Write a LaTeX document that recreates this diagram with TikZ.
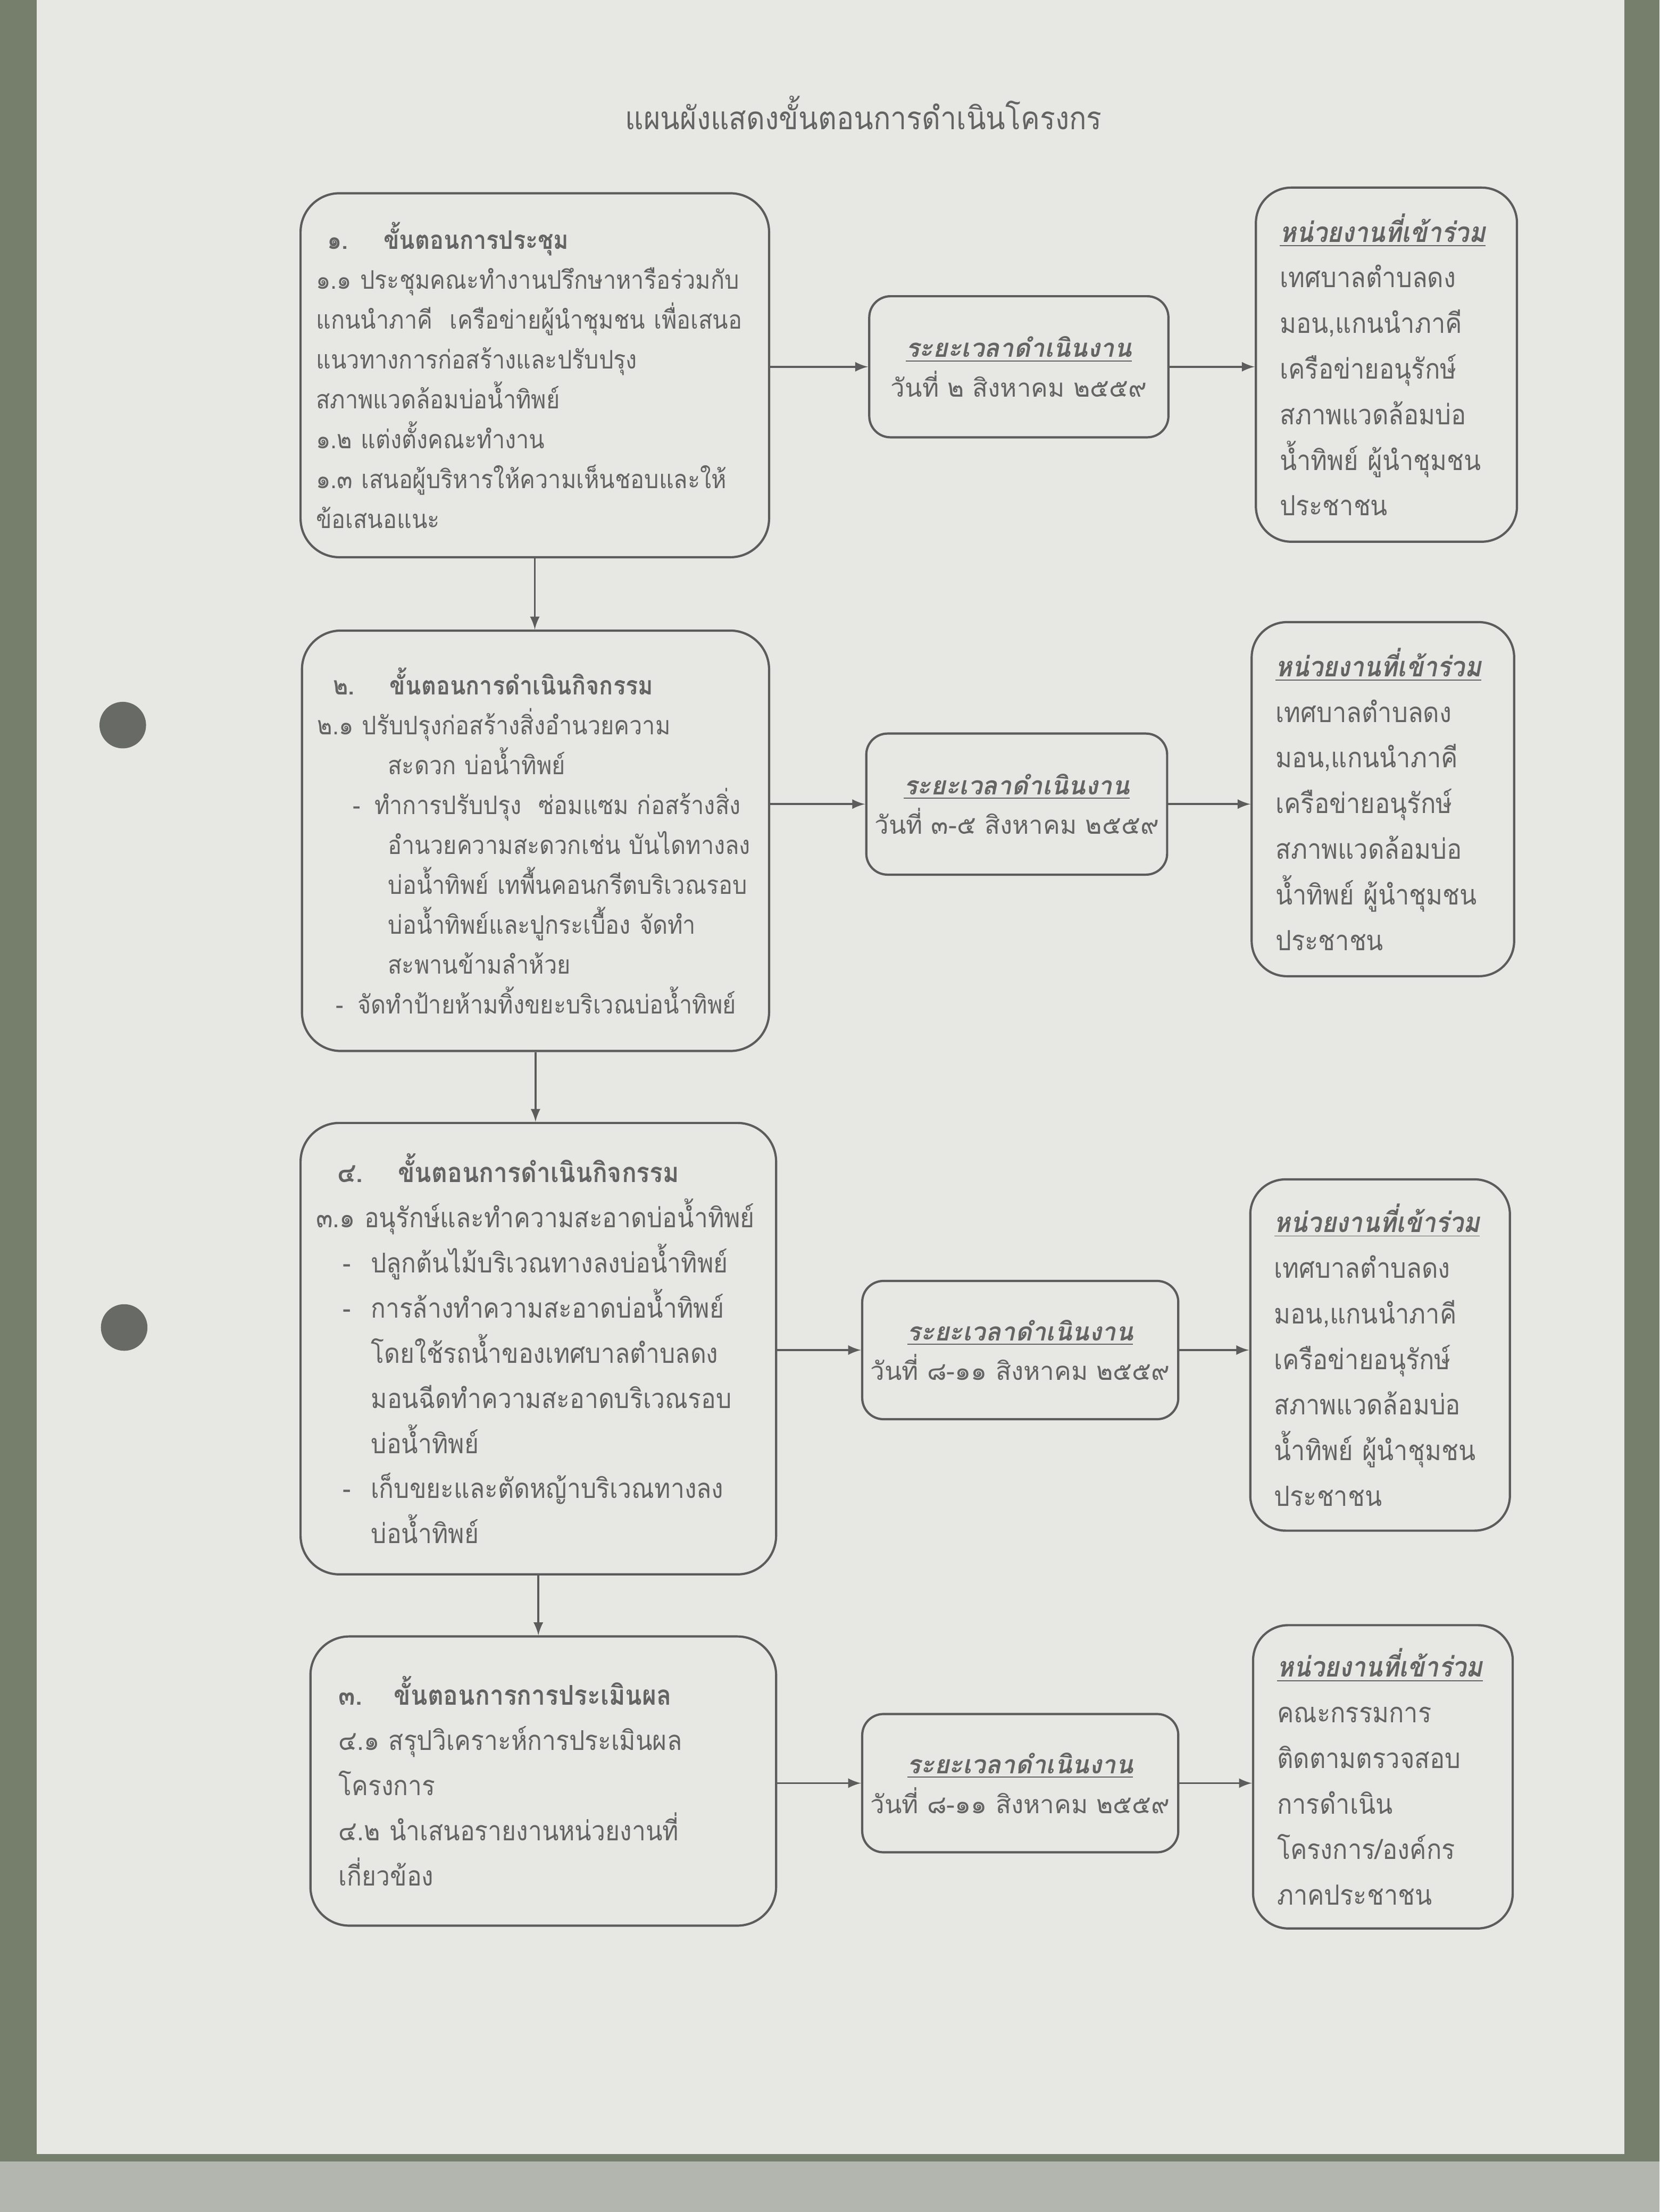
\documentclass[tikz,border=0pt]{standalone}
\usepackage{fontspec}
\usepackage{tikz}
\usetikzlibrary{arrows}
\newfontfamily\thaifont[Script=Thai]{Loma}
\newfontfamily\thainarrow[Script=Thai,FakeStretch=0.9]{Loma}
\definecolor{paper}{RGB}{231,231,228}
\definecolor{surround}{RGB}{118,127,108}
\definecolor{shadestrip}{RGB}{178,182,174}
\definecolor{holegray}{RGB}{104,107,101}
\definecolor{inkgray}{RGB}{100,100,100}
\definecolor{linegray}{RGB}{92,92,92}
\tikzset{
  stagebox/.style={draw=linegray,line width=0.9pt,rounded corners=0.55cm,inner xsep=0.22cm,
    align=left,text=inkgray,font=\thainarrow\fontsize{10.3}{16.1}\selectfont},
  timebox/.style={draw=linegray,line width=0.9pt,rounded corners=0.3cm,minimum height=2cm,
    align=center,text=inkgray,font=\thaifont\fontsize{10.2}{16}\selectfont},
  partbox/.style={draw=linegray,line width=0.9pt,rounded corners=0.5cm,inner xsep=0.34cm,
    align=left,text=inkgray,font=\thainarrow\fontsize{11.2}{18.4}\selectfont},
  flow/.style={draw=linegray,line width=0.8pt,-latex},
}
\newcommand{\boxhead}[1]{{\bfseries\itshape\underline{#1}}}

\begin{document}
\begin{tikzpicture}
  % sheet of paper in the photo
  \fill[surround] (0,0) rectangle (23.52,-31.36);
  \fill[shadestrip] (0,-30.64) rectangle (23.52,-31.36);
  \fill[paper] (0.52,0) rectangle (23.02,-30.54);
  \fill[holegray] (1.74,-10.28) circle (0.33);
  \fill[holegray] (1.76,-18.82) circle (0.33);

  \node (title) at (12.24,-1.60) [text=inkgray,font=\thainarrow\fontsize{12.8}{15}\selectfont] {แผนผังแสดงขั้นตอนการดำเนินโครงกร};

  % steps
  \node (s1) at (7.58,-5.32) [stagebox,minimum width=6.64cm,minimum height=5.16cm,text width=6.2cm] {%
    \hspace*{0.16cm}{\bfseries ๑.\hspace{0.5cm}ขั้นตอนการประชุม}\\
    ๑.๑ ประชุมคณะทำงานปรึกษาหารือร่วมกับ\\
    แกนนำภาคี\ \ เครือข่ายผู้นำชุมชน เพื่อเสนอ\\
    แนวทางการก่อสร้างและปรับปรุง\\
    สภาพแวดล้อมบ่อน้ำทิพย์\\
    ๑.๒ แต่งตั้งคณะทำงาน\\
    ๑.๓ เสนอผู้บริหารให้ความเห็นชอบและให้\\
    ข้อเสนอแนะ};
  \node (s2) at (7.59,-11.92) [stagebox,minimum width=6.62cm,minimum height=5.96cm,text width=6.18cm] {%
    \hspace*{0.22cm}{\bfseries ๒.\hspace{0.5cm}ขั้นตอนการดำเนินกิจกรรม}\\
    ๒.๑ ปรับปรุงก่อสร้างสิ่งอำนวยความ\\
    \hspace*{1.0cm}สะดวก บ่อน้ำทิพย์\\
    \hspace*{0.5cm}-\hspace{0.2cm}ทำการปรับปรุง\ \ ซ่อมแซม ก่อสร้างสิ่ง\\
    \hspace*{1.0cm}อำนวยความสะดวกเช่น บันไดทางลง\\
    \hspace*{1.0cm}บ่อน้ำทิพย์ เทพื้นคอนกรีตบริเวณรอบ\\
    \hspace*{1.0cm}บ่อน้ำทิพย์และปูกระเบื้อง จัดทำ\\
    \hspace*{1.0cm}สะพานข้ามลำห้วย\\
    \hspace*{0.26cm}-\hspace{0.2cm}จัดทำป้ายห้ามทิ้งขยะบริเวณบ่อน้ำทิพย์};
  \node (s3) at (7.63,-19.12) [stagebox,minimum width=6.74cm,minimum height=6.40cm,text width=6.3cm,
      font=\thainarrow\fontsize{11}{18.2}\selectfont] {%
    \hspace*{0.3cm}{\bfseries ๔.\hspace{0.5cm}ขั้นตอนการดำเนินกิจกรรม}\\
    ๓.๑ อนุรักษ์และทำความสะอาดบ่อน้ำทิพย์\\
    \hspace*{0.38cm}-\hspace{0.28cm}ปลูกต้นไม้บริเวณทางลงบ่อน้ำทิพย์\\
    \hspace*{0.38cm}-\hspace{0.28cm}การล้างทำความสะอาดบ่อน้ำทิพย์\\
    \hspace*{0.78cm}โดยใช้รถน้ำของเทศบาลตำบลดง\\
    \hspace*{0.78cm}มอนฉีดทำความสะอาดบริเวณรอบ\\
    \hspace*{0.78cm}บ่อน้ำทิพย์\\
    \hspace*{0.38cm}-\hspace{0.28cm}เก็บขยะและตัดหญ้าบริเวณทางลง\\
    \hspace*{0.78cm}บ่อน้ำทิพย์};
  \node (s4) at (7.70,-25.25) [stagebox,minimum width=6.60cm,minimum height=4.10cm,text width=5.8cm,
      inner xsep=0.4cm,font=\thainarrow\fontsize{11}{18.2}\selectfont] {%
    {\bfseries ๓.\hspace{0.45cm}ขั้นตอนการการประเมินผล}\\
    ๔.๑ สรุปวิเคราะห์การประเมินผล\\
    โครงการ\\
    ๔.๒ นำเสนอรายงานหน่วยงานที่\\
    เกี่ยวข้อง};

  % time of work
  \node (t1) at (14.44,-5.20) [timebox,minimum width=4.24cm] {\boxhead{ระยะเวลาดำเนินงาน}\\วันที่ ๒ สิงหาคม ๒๕๕๙};
  \node (t2) at (14.41,-11.40) [timebox,minimum width=4.22cm] {\boxhead{ระยะเวลาดำเนินงาน}\\วันที่ ๓-๕ สิงหาคม ๒๕๕๙};
  \node (t3) at (14.46,-19.14) [timebox,minimum width=4.40cm,minimum height=1.96cm] {\boxhead{ระยะเวลาดำเนินงาน}\\วันที่ ๘-๑๑ สิงหาคม ๒๕๕๙};
  \node (t4) at (14.46,-25.28) [timebox,minimum width=4.40cm,minimum height=1.96cm] {\boxhead{ระยะเวลาดำเนินงาน}\\วันที่ ๘-๑๑ สิงหาคม ๒๕๕๙};

  % units taking part
  \node (u1) at (19.65,-5.17) [partbox,minimum width=3.70cm,minimum height=5.02cm,text width=3.02cm] {%
    \boxhead{หน่วยงานที่เข้าร่วม}\\เทศบาลตำบลดง\\มอน,แกนนำภาคี\\เครือข่ายอนุรักษ์\\สภาพแวดล้อมบ่อ\\น้ำทิพย์ ผู้นำชุมชน\\ประชาชน};
  \node (u2) at (19.60,-11.33) [partbox,minimum width=3.72cm,minimum height=5.02cm,text width=3.04cm] {%
    \boxhead{หน่วยงานที่เข้าร่วม}\\เทศบาลตำบลดง\\มอน,แกนนำภาคี\\เครือข่ายอนุรักษ์\\สภาพแวดล้อมบ่อ\\น้ำทิพย์ ผู้นำชุมชน\\ประชาชน};
  \node (u3) at (19.56,-19.21) [partbox,minimum width=3.68cm,minimum height=4.98cm,text width=3.0cm] {%
    \boxhead{หน่วยงานที่เข้าร่วม}\\เทศบาลตำบลดง\\มอน,แกนนำภาคี\\เครือข่ายอนุรักษ์\\สภาพแวดล้อมบ่อ\\น้ำทิพย์ ผู้นำชุมชน\\ประชาชน};
  \node (u4) at (19.60,-25.19) [partbox,minimum width=3.68cm,minimum height=4.30cm,text width=3.0cm] {%
    \boxhead{หน่วยงานที่เข้าร่วม}\\คณะกรรมการ\\ติดตามตรวจสอบ\\การดำเนิน\\โครงการ/องค์กร\\ภาคประชาชน};

  % connectors
  \draw [flow] (s1.south) -- (s1.south |- s2.north);
  \draw [flow] (s2.south) -- (s2.south |- s3.north);
  \draw [flow] (s3.south) -- (s3.south |- s4.north);
  \foreach \i in {1,...,4} {
    \draw [flow] (t\i.west -| s\i.east) -- (t\i.west);
    \draw [flow] (t\i.east) -- (t\i.east -| u\i.west);
  }
\end{tikzpicture}
\end{document}
